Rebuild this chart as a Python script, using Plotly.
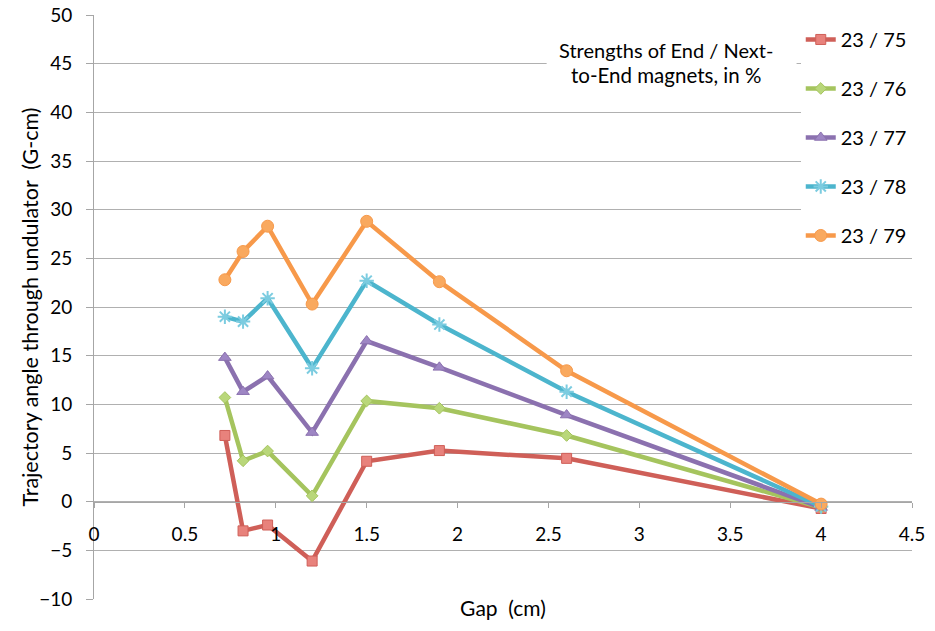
import plotly.graph_objects as go

gap_cm = [0.72, 0.82, 0.955, 1.2, 1.5, 1.9, 2.6, 4.0]

series_names = ["23 / 75", "23 / 76", "23 / 77", "23 / 78", "23 / 79"]
s_23_75 = [6.8, -3.0, -2.4, -6.1, 4.15, 5.25, 4.45, -0.7]
s_23_76 = [10.7, 4.2, 5.2, 0.6, 10.35, 9.6, 6.8, -0.6]
s_23_77 = [14.8, 11.3, 12.9, 7.1, 16.5, 13.8, 8.9, -0.6]
s_23_78 = [19.0, 18.5, 20.9, 13.7, 22.7, 18.2, 11.3, -0.5]
s_23_79 = [22.8, 25.7, 28.3, 20.3, 28.8, 22.6, 13.45, -0.25]
series_values = [s_23_75, s_23_76, s_23_77, s_23_78, s_23_79]

x_ticks = [0, 0.5, 1, 1.5, 2, 2.5, 3, 3.5, 4, 4.5]
y_ticks = [-10, -5, 0, 5, 10, 15, 20, 25, 30, 35, 40, 45, 50]

colors = ["#CF5F58", "#A5C45E", "#8B71AF", "#4CB5CD", "#F7994A"]
marker_fill = ["#E8827C", "#B9D77A", "#9E86C4", "#7CCCE0", "#F9A95F"]
symbols = ["square", "diamond", "triangle-up", "asterisk-open", "circle"]
sizes = [10, 9, 11, 12, 12]

FONT = "Lato"

fig = go.Figure()
for i, (name, vals) in enumerate(zip(series_names, series_values)):
    is_ast = symbols[i].startswith("asterisk")
    fig.add_trace(go.Scatter(
        x=gap_cm, y=vals, name=name, mode="lines+markers",
        legendgroup=name,
        line=dict(color=colors[i], width=4.5),
        marker=dict(symbol=symbols[i], size=sizes[i], color=marker_fill[i],
                    line=dict(color=marker_fill[i] if is_ast else colors[i],
                              width=2 if is_ast else 1)),
    ))

# white text box behind the legend caption
fig.add_shape(type="rect", xref="x", yref="y", x0=2.49, x1=3.865, y0=40.6, y1=49.4,
              fillcolor="white", line=dict(width=0), layer="between")
fig.add_annotation(x=3.145, y=46.4, xref="x", yref="y", showarrow=False,
                   text="Strengths of End / Next-", font=dict(family=FONT, size=20, color="#000"))
fig.add_annotation(x=3.145, y=43.8, xref="x", yref="y", showarrow=False,
                   text="to-End magnets, in %", font=dict(family=FONT, size=20.5, color="#000"))

# y-axis title, placed as in the reference
fig.add_annotation(x=0, y=0.5, xref="paper", yref="paper", xanchor="center", yanchor="middle",
                   xshift=-64.5, textangle=-90, showarrow=False,
                   text="Trajectory angle through undulator  (G-cm)",
                   font=dict(family=FONT, size=21.5, color="#000"))

fig.update_layout(
    width=935, height=631,
    margin=dict(l=93.5, r=22.5, t=15, b=32),
    paper_bgcolor="white", plot_bgcolor="white",
    font=dict(family=FONT, size=19, color="#000"),
    showlegend=True,
    legend=dict(x=0.864, y=0.9915, xanchor="left", yanchor="top",
                bgcolor="white", font=dict(family=FONT, size=20, color="#000"),
                tracegroupgap=20, itemwidth=30),
    xaxis=dict(range=[0, 4.5], tickvals=x_ticks, ticktext=[f"{v:g}" for v in x_ticks],
               showgrid=False, zeroline=False, showline=True, linecolor="#A6A6A6", linewidth=1,
               ticks="outside", ticklen=5, tickcolor="#A6A6A6",
               anchor="free", position=10 / 60, ticklabelstandoff=11,
               ticklabeloverflow="allow", automargin=False,
               title=dict(text="Gap  (cm)", standoff=56, font=dict(family=FONT, size=21))),
    yaxis=dict(range=[-10, 50], tickvals=y_ticks, showgrid=True, gridcolor="#B0B0B0", gridwidth=1,
               zeroline=False, showline=True, linecolor="#A6A6A6", linewidth=1,
               ticks="outside", ticklen=7, tickcolor="#A6A6A6", ticklabelstandoff=10,
               ticklabeloverflow="allow", automargin=False),
)

# remove the default 8px page margin so the figure fills the window exactly
fig.write_html("out.html", config={"displayModeBar": False},
               post_script="document.body.style.margin='0';")
